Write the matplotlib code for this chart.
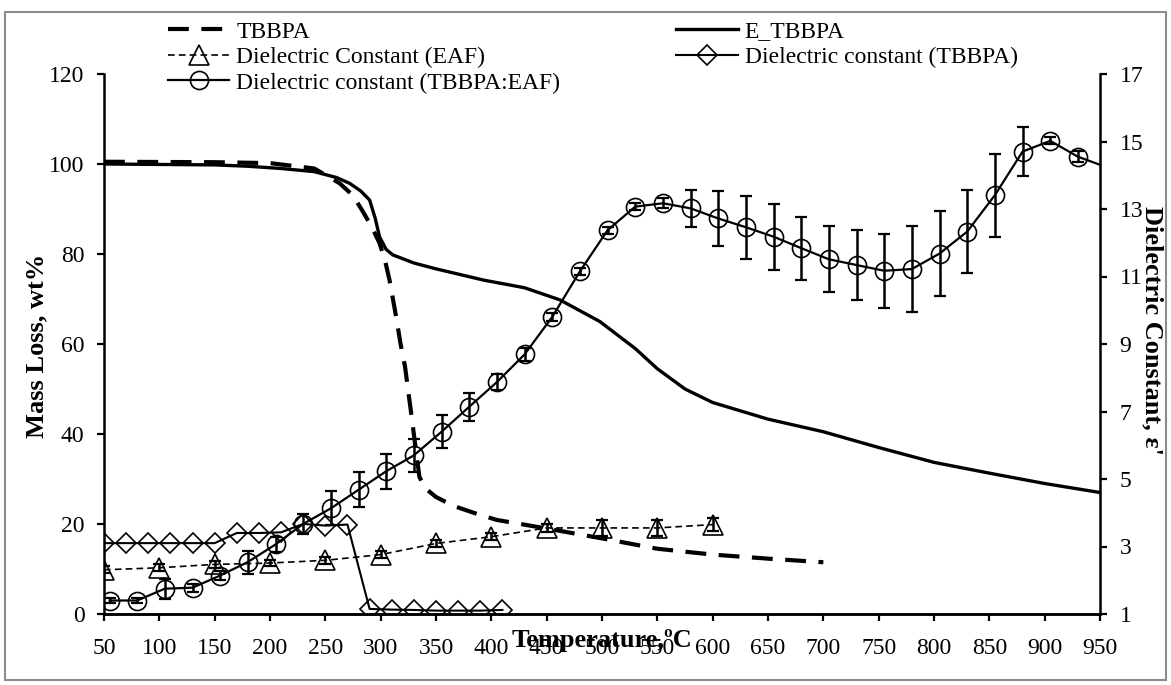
import matplotlib.pyplot as plt
from matplotlib.patches import Rectangle

plt.rcParams['font.family'] = ['Liberation Serif', 'DejaVu Serif']

W, H = 1171, 685

# TGA mass loss, left axis
temp_tbbpa = [50, 150, 200, 240, 263, 275, 284, 292, 299, 304, 308, 314, 318, 322,
              328, 331, 335, 340, 350, 366, 390, 405, 450, 500, 550, 600, 650, 700]
mass_tbbpa = [100.5, 100.4, 100.2, 99.0, 95.7, 93.0, 89.4, 86.0, 82.4, 78.5, 74.2, 66.0, 60.0, 55.0,
              43.8, 38.0, 30.5, 28.0, 26.0, 24.0, 22.0, 20.9, 19.0, 16.8, 14.5, 13.2, 12.3, 11.5]

temp_etbbpa = [50, 100, 150, 180, 210, 240, 260, 272, 282, 290, 295, 299, 305, 311, 330, 350,
               393, 430, 462, 498, 530, 550, 575, 600, 650, 700, 750, 800, 850, 900, 950]
mass_etbbpa = [100.0, 99.9, 99.8, 99.5, 99.0, 98.3, 97.0, 95.7, 94.0, 92.0, 88.0, 83.8, 81.0, 79.8, 78.0, 76.7,
               74.2, 72.5, 69.8, 65.0, 59.0, 54.5, 50.0, 47.0, 43.3, 40.5, 37.0, 33.7, 31.3, 29.0, 27.0]

# dielectric constant, right axis
temp_eaf = [50, 100, 150, 200, 250, 300, 350, 400, 450, 500, 550, 600]
eps_eaf = [2.31, 2.37, 2.47, 2.51, 2.59, 2.76, 3.09, 3.29, 3.55, 3.55, 3.55, 3.65]
err_eaf = [0.1, 0.1, 0.1, 0.1, 0.1, 0.1, 0.1, 0.1, 0.12, 0.25, 0.25, 0.2]

temp_diel_tbbpa = [50, 70, 90, 110, 130, 150, 170, 190, 210, 230, 250, 270,
                   290, 310, 330, 350, 370, 390, 410]
eps_diel_tbbpa = [3.10, 3.10, 3.10, 3.10, 3.10, 3.10, 3.40, 3.40, 3.42, 3.67, 3.62, 3.65,
                  1.15, 1.13, 1.12, 1.10, 1.10, 1.10, 1.12]

temp_mix = [55, 80, 105, 130, 155, 180, 205, 230, 255, 280, 305, 330, 355, 380, 405, 430,
            455, 480, 505, 530, 555, 580, 605, 630, 655, 680, 705, 730, 755, 780, 805, 830,
            855, 880, 905, 930, 955]
eps_mix = [1.40, 1.40, 1.75, 1.78, 2.14, 2.54, 3.06, 3.67, 4.13, 4.68, 5.23, 5.70, 6.40, 7.14, 7.87, 8.69,
           9.80, 11.15, 12.37, 13.07, 13.17, 13.02, 12.72, 12.46, 12.18, 11.84, 11.51, 11.34, 11.17, 11.22, 11.68, 12.33,
           13.41, 14.70, 15.02, 14.55, 14.25]
err_mix = [0.08, 0.08, 0.3, 0.12, 0.12, 0.34, 0.22, 0.3, 0.5, 0.52, 0.52, 0.48, 0.49, 0.41, 0.23, 0.2,
           0.12, 0.1, 0.1, 0.1, 0.15, 0.55, 0.81, 0.94, 0.98, 0.93, 0.98, 1.05, 1.09, 1.27, 1.27, 1.24,
           1.23, 0.73, 0.1, 0.17, 0.0]

fig = plt.figure(figsize=(W / 100, H / 100), dpi=100)
ax = fig.add_axes([104 / W, 1 - 614 / H, (1100 - 104) / W, (614 - 74) / H])
ax2 = ax.twinx()

l_tbbpa, = ax.plot(temp_tbbpa, mass_tbbpa, color='black', lw=3.0, dashes=(5, 3),
                   label='TBBPA')
l_etbbpa, = ax.plot(temp_etbbpa, mass_etbbpa, color='black', lw=2.4, label='E_TBBPA')

l_eaf, = ax2.plot(temp_eaf, eps_eaf, color='black', lw=1.2, dashes=(4, 2.5),
                  marker='^', ms=14, mfc='none', mec='black', mew=1.2,
                  label='Dielectric Constant (EAF)')
ax2.errorbar(temp_eaf, eps_eaf, yerr=err_eaf, fmt='none', ecolor='black',
             elinewidth=1.8, capsize=4, capthick=1.6)

l_dtbbpa, = ax2.plot(temp_diel_tbbpa, eps_diel_tbbpa, color='black', lw=1.5,
                     marker='D', ms=10, mfc='none', mec='black', mew=1.2,
                     label='Dielectric constant (TBBPA)')

# last point only carries the line out to the axis edge
n_mix = len([t for t in temp_mix if t <= 950])
l_mix, = ax2.plot(temp_mix, eps_mix, color='black', lw=1.6,
                  marker='o', ms=13, mfc='none', mec='black', mew=1.2,
                  markevery=list(range(n_mix)),
                  label='Dielectric constant (TBBPA:EAF)')
ax2.errorbar(temp_mix[:n_mix], eps_mix[:n_mix], yerr=err_mix[:n_mix], fmt='none',
             ecolor='black', elinewidth=1.8, capsize=4.5, capthick=1.6)

ax.set_xlim(50, 950)
ax.set_ylim(0, 120)
ax2.set_ylim(1, 17)
ax.set_xticks(range(50, 951, 50))
ax.set_yticks(range(0, 121, 20))
ax2.set_yticks(range(1, 18, 2))

for a in (ax, ax2):
    a.spines['top'].set_visible(False)
    for s in a.spines.values():
        s.set_linewidth(1.8)
ax.spines['right'].set_visible(False)
ax2.spines['left'].set_visible(False)
ax.tick_params(axis='both', direction='out', length=5, width=1.6, labelsize=17, pad=9)
ax.tick_params(axis='x', pad=12)
ax2.tick_params(axis='y', direction='out', length=5, width=1.6, labelsize=17, pad=9)

fig.text(602 / W, 1 - 641 / H, 'Temperature,ºC', ha='center', va='center',
         fontsize=19, fontweight='bold')
fig.text(37 / W, 1 - 346 / H, 'Mass Loss, wt%', ha='center', va='center',
         rotation=90, fontsize=19, fontweight='bold')
fig.text(1152 / W, 1 - 330 / H, "Dielectric Constant, ε'", ha='center', va='center',
         rotation=270, fontsize=19, fontweight='bold')

handles = [l_tbbpa, l_eaf, l_mix, l_etbbpa, l_dtbbpa]
fig.legend(handles, [h.get_label() for h in handles], ncol=2, loc='upper left',
           bbox_to_anchor=(168 / W, 1 - 21 / H), frameon=False, fontsize=17,
           handlelength=2.6, handletextpad=0.3, columnspacing=4.9,
           labelspacing=0.17, borderpad=0, borderaxespad=0)

# chart area frame
fig.patches.append(Rectangle((5 / W, 1 - 680 / H), (1166 - 5) / W, (680 - 12) / H,
                             transform=fig.transFigure, fill=False,
                             edgecolor='#8c8c8c', lw=1.5))

fig.savefig('out.png', dpi=100)
